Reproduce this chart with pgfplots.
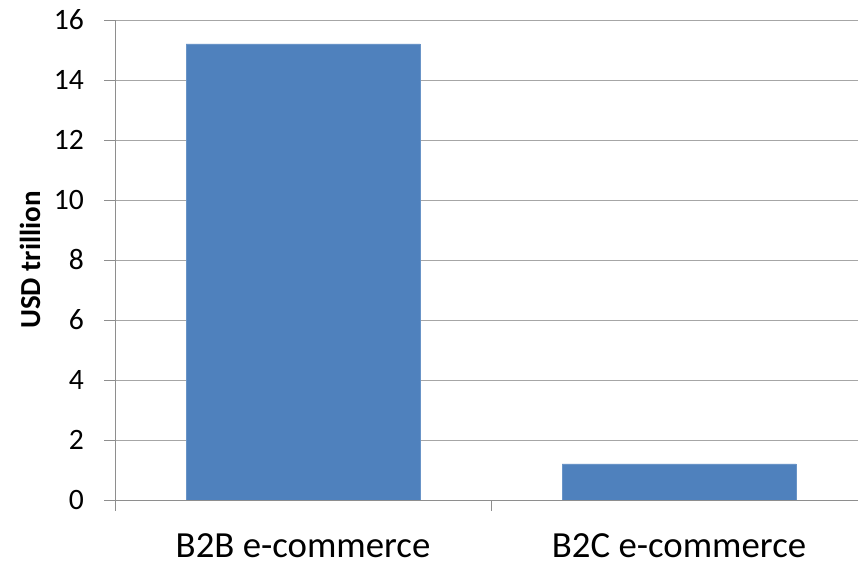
\documentclass[border=0pt]{standalone}
\usepackage{fontspec}
\setmainfont{Carlito}
\usepackage{pgfplots}
\pgfplotsset{compat=1.18}
\definecolor{barblue}{HTML}{4F81BD}
\definecolor{gridgray}{HTML}{A6A6A6}
\definecolor{axisgray}{HTML}{8E8E8E}

\begin{document}
\begin{tikzpicture}[x=1pt,y=1pt]
% the plot area runs a little past the right edge, as in the reference
\useasboundingbox (0,0) rectangle (858,564);
\begin{axis}[
  at={(115pt,64pt)}, anchor=south west,
  scale only axis, width=752pt, height=480pt,
  xmin=-0.5, xmax=1.5, ymin=0, ymax=16,
  axis x line*=bottom, axis y line*=left,
  axis line style={axisgray, line width=0.8pt, -},
  ytick={0,2,...,16},
  ymajorgrids, grid style={gridgray, line width=0.8pt},
  tick align=outside,
  major tick length=11pt,
  tick style={axisgray, line width=0.8pt},
  /pgf/number format/assume math mode=true,
  yticklabel style={font=\fontsize{29.6}{34}\selectfont, anchor=east, inner sep=0pt, xshift=-20pt},
  % category separators
  xtick={-0.5,0.5,1.5},
  xticklabels={},
  % category names
  extra x ticks={0,1},
  extra x tick labels={B2B e-commerce, B2C e-commerce},
  extra x tick style={major tick length=0pt, grid=none,
    xticklabel style={font=\fontsize{36.8}{42}\selectfont, anchor=base, inner sep=0pt, yshift=-57pt}},
  ylabel={\bfseries USD trillion},
  ylabel style={font=\fontsize{29}{34}\selectfont, at={(axis description cs:-0.0997,0.5)}, anchor=base, inner sep=0pt},
]
\addplot[ybar, bar width=234pt, bar shift=0pt, fill=barblue, draw=barblue!85!white]
  coordinates {(0,15.2) (1,1.2)};
\end{axis}
\end{tikzpicture}
\end{document}
